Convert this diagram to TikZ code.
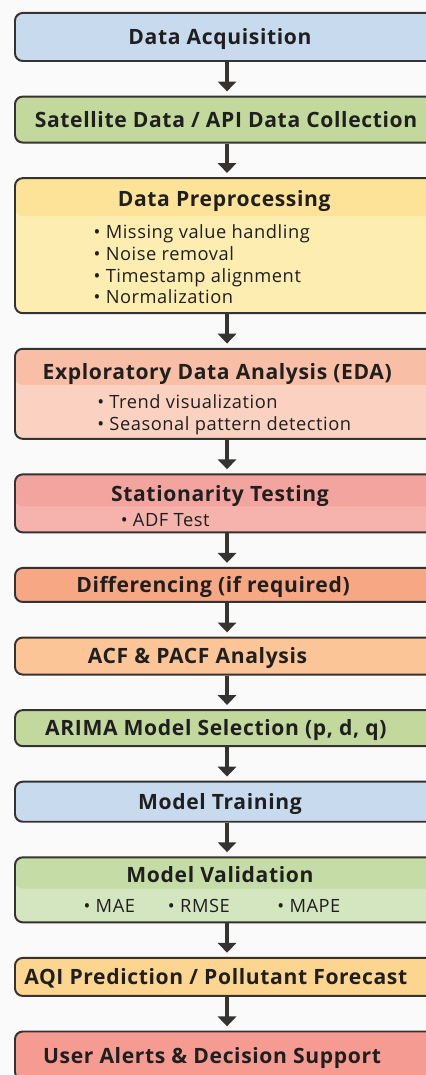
\documentclass[tikz,border=0pt]{standalone}
\usepackage{fontspec}
\setmainfont{Open Sans}[LetterSpace=3]
\usepackage{xcolor}
\usetikzlibrary{positioning, arrows.meta}

\definecolor{pagebg}{HTML}{FAFAFA}
\definecolor{edge}{HTML}{36322F}
\definecolor{ink}{HTML}{1F1F1F}
\definecolor{bluefill}{HTML}{C8DAEE}
\definecolor{greenfill}{HTML}{C3D89C}
\definecolor{prephead}{HTML}{FCE398}
\definecolor{prepbody}{HTML}{FEEDB1}
\definecolor{edahead}{HTML}{F8BEA6}
\definecolor{edabody}{HTML}{FBD2C1}
\definecolor{stathead}{HTML}{F4A49F}
\definecolor{statbody}{HTML}{F6B2AC}
\definecolor{difffill}{HTML}{F7A783}
\definecolor{acffill}{HTML}{FCC597}
\definecolor{valhead}{HTML}{C6DCA6}
\definecolor{valbody}{HTML}{D4E6BF}
\definecolor{aqifill}{HTML}{FCD690}
\definecolor{alertfill}{HTML}{F59B91}

\newcommand{\titlefont}{\fontsize{15}{18}\selectfont\bfseries}
\newcommand{\bodyfont}{\fontsize{13}{15.4}\selectfont\mdseries}
% centre a line #1 off the box centre
\newcommand{\offset}[2]{\makebox[0pt]{\hspace*{#1}\hspace*{#1}#2}}
% room above a heading line
\newcommand{\topgap}[1]{\rule{0pt}{#1}}

\begin{document}
\begin{tikzpicture}[
    x=0.025cm, y=0.025cm,
    node distance=0.84cm,
    stage/.style={rectangle, draw=edge, line width=1.4pt, rounded corners=5.5pt, minimum width=10.6cm, inner sep=0pt, text=ink, align=center, font=\titlefont},
    single/.style={text height=10.7pt, text depth=0pt},
    band/.style 2 args={path picture={\fill[#1] (path picture bounding box.north west) rectangle ([yshift=-#2]path picture bounding box.north east);}},
    arrow/.style={line width=2.9pt, draw=edge, -{Triangle[width=13pt,length=7pt]}, shorten >=3pt}
]

\useasboundingbox (0,0) rectangle (426,-1075);
\fill[pagebg] (0,0) rectangle (426,-1075);
\clip (0,0) rectangle (426,-1075);

\node[stage, single, fill=bluefill, minimum height=1.2cm, anchor=north west] (acq) at (14,-12) {\offset{-5pt}{Data Acquisition}};
\node[stage, single, fill=greenfill, minimum height=1.15cm, below=of acq] (sat) {\offset{-0.7pt}{Satellite Data / API Data Collection}};
\node[stage, fill=prepbody, band={prephead}{0.95cm}, minimum height=3.375cm, below=of sat] (prep) {\offset{-2pt}{\topgap{18pt}Data Preprocessing}\\[5pt]
    \bodyfont\offset{-18pt}{\begin{tabular}[t]{@{}l@{}}\textbullet~Missing value handling\\ \textbullet~Noise removal\\ \textbullet~Timestamp alignment\\ \textbullet~Normalization\end{tabular}}};
\node[stage, fill=edabody, band={edahead}{0.9cm}, minimum height=2.25cm, below=of prep] (eda) {\offset{-7pt}{\topgap{20pt}Exploratory Data Analysis (EDA)}\\[3pt]
    \bodyfont\offset{-2pt}{\begin{tabular}[t]{@{}l@{}}\textbullet~Trend visualization\\ \textbullet~Seasonal pattern detection\end{tabular}}};
\node[stage, fill=statbody, band={stathead}{0.8cm}, minimum height=1.45cm, below=of eda] (stat) {\offset{-5pt}{\topgap{15.3pt}Stationarity Testing}\\[0pt]
    \bodyfont\offset{-44pt}{\textbullet~ADF Test}};
\node[stage, single, fill=difffill, minimum height=0.85cm, below=of stat] (diff) {\offset{-10pt}{Differencing (if required)}};
\node[stage, single, fill=acffill, minimum height=0.925cm, below=of diff] (acf) {\offset{-21pt}{ACF \& PACF Analysis}};
\node[stage, single, fill=greenfill, minimum height=0.9cm, below=of acf] (arima) {\offset{-8pt}{ARIMA Model Selection (p, d, q)}};
\node[stage, single, fill=bluefill, minimum height=1.0cm, below=of arima] (train) {\offset{-5pt}{Model Training}};
\node[stage, fill=valbody, band={valhead}{0.78cm}, minimum height=1.625cm, below=of train] (valid) {\offset{-5pt}{Model Validation}\\[3pt]
    \bodyfont\offset{-10.7pt}{\textbullet~MAE\hspace{1.8em}\textbullet~RMSE\hspace{2.6em}\textbullet~MAPE}};
\node[stage, single, fill=aqifill, minimum height=0.95cm, below=of valid] (aqi) {\offset{-8pt}{AQI Prediction / Pollutant Forecast}};
\node[stage, single, fill=alertfill, minimum height=1.2cm, below=of aqi] (alert) {\offset{-10.7pt}{User Alerts \& Decision Support}};

\draw[arrow] (acq) -- (sat);
\draw[arrow] (sat) -- (prep);
\draw[arrow] (prep) -- (eda);
\draw[arrow] (eda) -- (stat);
\draw[arrow] (stat) -- (diff);
\draw[arrow] (diff) -- (acf);
\draw[arrow] (acf) -- (arima);
\draw[arrow] (arima) -- (train);
\draw[arrow] (train) -- (valid);
\draw[arrow] (valid) -- (aqi);
\draw[arrow] (aqi) -- (alert);

\end{tikzpicture}
\end{document}
